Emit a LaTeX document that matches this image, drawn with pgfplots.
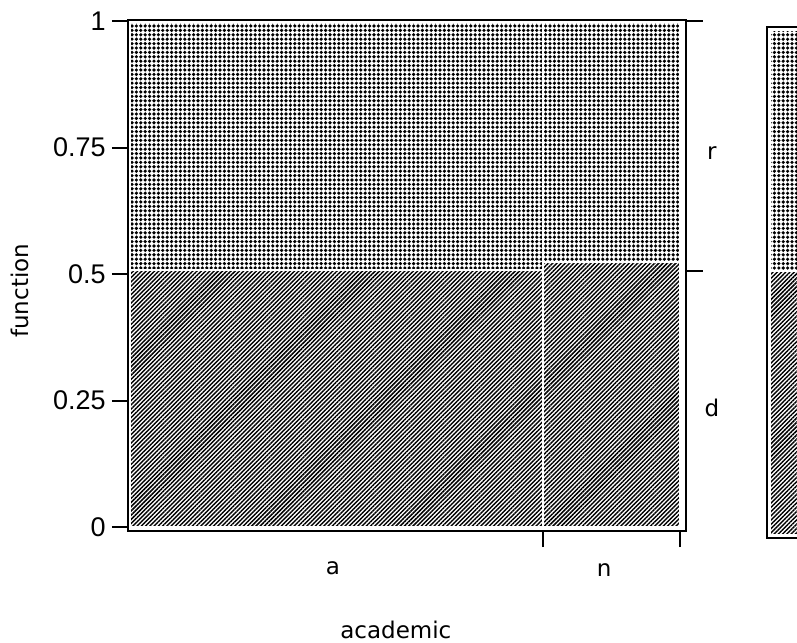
\documentclass[border=0pt]{standalone}
\usepackage{fontspec}
\setmainfont{DejaVu Sans}
\newfontfamily\tickfont{Liberation Sans}
\usepackage{pgfplots}
\pgfplotsset{compat=1.18}
\usetikzlibrary{patterns.meta}
\tikzset{
 rcell/.style={pattern={Dots[distance=2.2pt,radius=0.9pt]}, draw=white, line width=1pt},
 dcell/.style={pattern={Lines[angle=45,distance=1.5pt,line width=0.72pt]}, draw=white, line width=1pt},
}
\begin{document}
\begin{tikzpicture}[font=\fontsize{11.5}{14}\selectfont]
\useasboundingbox (0,0) rectangle (398.5pt,321pt);
\clip (0,0) rectangle (398.5pt,321pt);
\begin{axis}[
 at={(64pt,55.5pt)}, anchor=south west,
 scale only axis, width=279pt, height=255.5pt,
 xmin=-0.0036, xmax=1.0109, ymin=-0.0079, ymax=1.002,
 clip=false, axis on top,
 axis line style={line width=1.1pt},
 ytick={0,0.25,0.5,0.75,1}, yticklabels={0,0.25,0.5,0.75,1},
 xtick={0.75,1}, xticklabels={},
 xtick pos=left, ytick pos=left,
 tick align=outside,
 major tick length=8pt,
 tick style={line width=1pt, black},
 yticklabel style={font=\tickfont\fontsize{13.5}{16}\selectfont, inner sep=3pt},
]
% d (bottom) cells, r (top) cells: x = academic share, y = function share
\addplot[dcell] coordinates {(0,0) (0.75,0) (0.75,0.507) (0,0.507)} --cycle;
\addplot[rcell] coordinates {(0,0.507) (0.75,0.507) (0.75,0.998) (0,0.998)} --cycle;
\addplot[dcell] coordinates {(0.75,0) (1,0) (1,0.523) (0.75,0.523)} --cycle;
\addplot[rcell] coordinates {(0.75,0.523) (1,0.523) (1,0.998) (0.75,0.998)} --cycle;
\draw[line width=1pt] (axis cs:1.0109,1) -- ++(8.5pt,0pt);
\draw[line width=1pt] (axis cs:1.0109,0.506) -- ++(8.5pt,0pt);
\node at (axis cs:1.058,0.74) {r};
\node at (axis cs:1.058,0.235) {d};
\node at (axis cs:0.369,-0.0079) [yshift=-18.5pt] {a};
\node at (axis cs:0.862,-0.0079) [yshift=-19.5pt] {n};
\node at (rel axis cs:0.48,0) [yshift=-49.5pt] {academic};
\node at (rel axis cs:0,0.47) [xshift=-54pt, rotate=90] {function};
\end{axis}
\begin{axis}[
 at={(383.5pt,52pt)}, anchor=south west,
 scale only axis, width=46.5pt, height=255.5pt,
 xmin=0, xmax=1, ymin=0, ymax=1,
 axis on top,
 axis line style={line width=1.1pt},
 ticks=none,
]
\addplot[dcell] coordinates {(0.03,0.006) (1.2,0.006) (1.2,0.5225) (0.03,0.5225)} --cycle;
\addplot[rcell] coordinates {(0.03,0.5225) (1.2,0.5225) (1.2,0.994) (0.03,0.994)} --cycle;
\end{axis}
\end{tikzpicture}
\end{document}
